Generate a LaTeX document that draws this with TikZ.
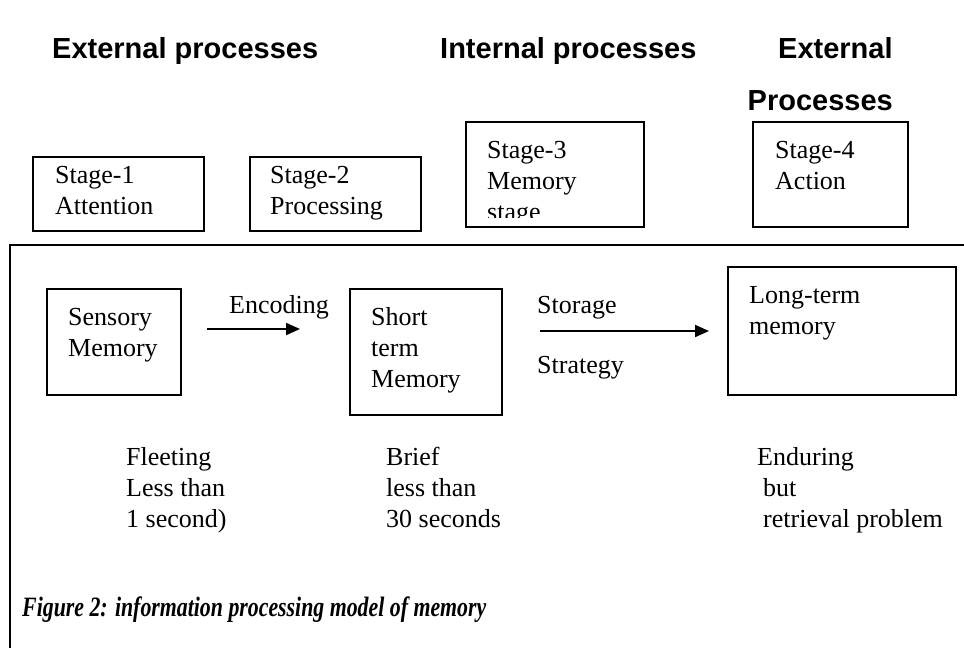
\documentclass[tikz,border=0pt]{standalone}
\usepackage{fontspec}
\usepackage{graphicx}
\setmainfont{Liberation Serif}
\newfontfamily\headfont{Liberation Sans}
\usetikzlibrary{arrows.meta}

% first line of a text block starts 20pt above its baseline
\newcommand{\fl}{\rule{0pt}{20pt}}

\begin{document}
\begin{tikzpicture}[x=1pt, y=-1pt,
   box/.style={draw, line width=2pt, inner sep=0pt},
   txt/.style={anchor=north west, inner sep=0pt, align=left,
     font=\fontsize{26}{31}\selectfont},
   head/.style={anchor=base west, inner sep=0pt,
     font=\headfont\bfseries\fontsize{29}{34}\selectfont},
   flow/.style={-{Triangle[length=14pt, width=12pt]}, line width=2pt}]
   \useasboundingbox (0,0) rectangle (964,648);

   % headings
   \node[head] (h1) at (52,58) {External processes};
   \node[head] (h2) at (440,58) {Internal processes};
   \node[head] (h3) at (778,58) {External};
   \node[head, anchor=base east] (h4) at (893,110) {Processes};

   % stages
   \node[box, minimum width=171, minimum height=74] (st1) at (118.5,194) {};
   \node[txt] (st1t) at (55,163) {\fl Stage-1\\Attention};
   \node[box, minimum width=171, minimum height=74] (st2) at (335.5,194) {};
   \node[txt] (st2t) at (270,163) {\fl Stage-2\\Processing};
   \node[box, minimum width=178, minimum height=105] (st3) at (555,174.5) {};
   \begin{scope}
     \clip (466,122) rectangle (644,217);
     \node[txt] (st3t) at (487,138) {\fl Stage-3\\Memory\\stage};
   \end{scope}
   \node[box, minimum width=155, minimum height=105] (st4) at (830.5,174.5) {};
   \node[txt] (st4t) at (775,138) {\fl Stage-4\\Action};

   % frame
   \draw[line width=2pt] (964,245) -- (10,245) -- (10,648);

   % memory stores
   \node[box, minimum width=134, minimum height=106] (sm) at (114,342) {};
   \node[txt] (smt) at (68,305) {\fl Sensory\\Memory};
   \node[box, minimum width=152, minimum height=126] (stm) at (426,352) {};
   \node[txt] (stmt) at (371,305) {\fl Short\\term\\Memory};
   \node[box, minimum width=228, minimum height=128] (ltm) at (842,331) {};
   \node[txt] (ltmt) at (749,283) {\fl Long-term\\memory};

   \draw[flow] ([shift={(25,-13)}]sm.east) -- ([shift={(-49,-23)}]stm.west);
   \node[txt] (enc) at (229,293) {\fl Encoding};
   \draw[flow] ([shift={(37,-21)}]stm.east) -- ([xshift=-18]ltm.west);
   \node[txt] (sto) at (537,293) {\fl Storage};
   \node[txt] (stra) at (537,353) {\fl Strategy};

   % durations
   \node[txt] (d1) at (126,445) {\fl Fleeting\\Less than\\1 second)};
   \node[txt] (d2) at (386,445) {\fl Brief\\less than\\30 seconds};
   \node[txt] (d3) at (757,445) {\fl Enduring\\\hspace*{6pt}but\\\hspace*{6pt}retrieval problem};

   % caption
   \node[anchor=base west, inner sep=0pt, font=\fontsize{28}{33}\selectfont\bfseries\itshape]
     (cap) at (22,616) {\scalebox{0.78}[1]{Figure 2: information processing model of memory}};
\end{tikzpicture}
\end{document}
